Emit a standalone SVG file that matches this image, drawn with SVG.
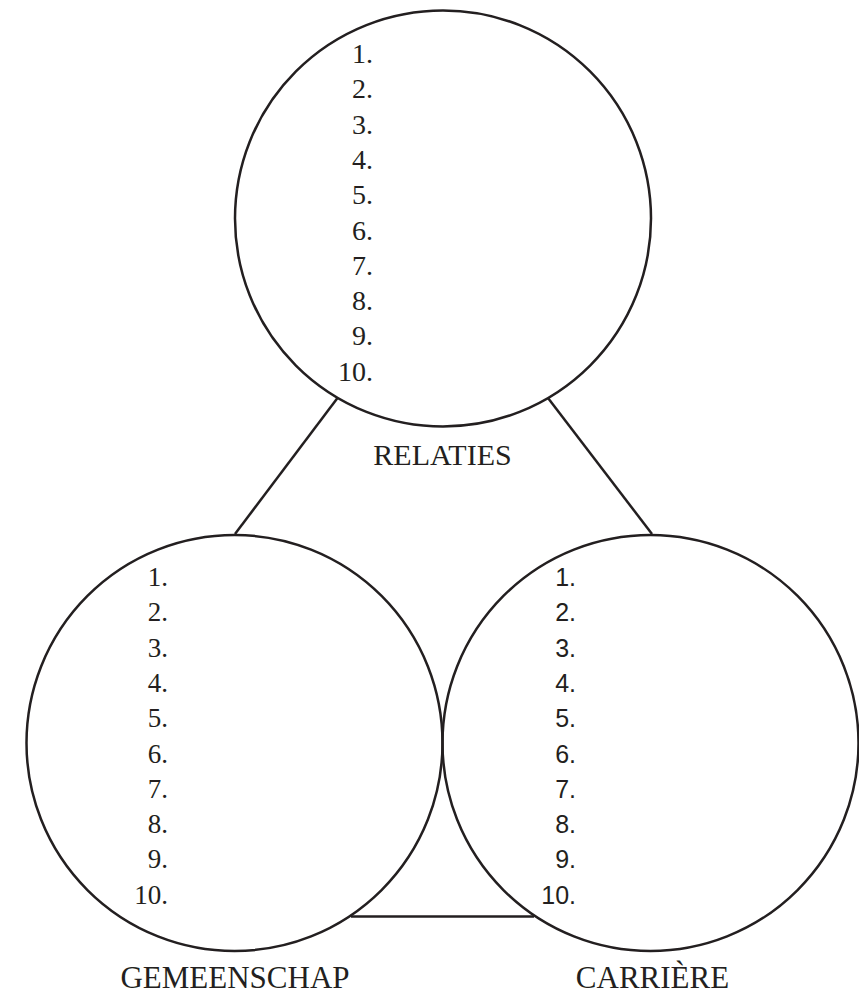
<svg xmlns="http://www.w3.org/2000/svg" width="859" height="997" viewBox="0 0 859 997">
<style>
.c{fill:none;stroke:#231f20;stroke-width:2.5}
.l{stroke:#231f20;stroke-width:2.5}
.ns{font-family:"Liberation Serif",serif;font-size:28px;fill:#231f20;text-anchor:end}
.nl{font-family:"Liberation Serif",serif;font-size:27px;fill:#231f20;text-anchor:end}
.nr{font-family:"Liberation Sans",sans-serif;font-size:25px;fill:#231f20;text-anchor:end}
.t{font-family:"Liberation Serif",serif;font-size:30px;fill:#231f20;text-anchor:middle}
.t2{font-family:"Liberation Serif",serif;font-size:31px;fill:#231f20;text-anchor:middle}
</style>
<rect width="859" height="997" fill="#fff"/>
<g id="connectors">
<line class="l" x1="337.5" y1="398" x2="235" y2="534"/>
<line class="l" x1="548" y1="398" x2="652" y2="534"/>
<line class="l" x1="351" y1="916.5" x2="534" y2="916.5"/>
</g>
<g id="relaties">
<circle class="c" cx="443" cy="218.5" r="208"/>
<text class="ns" x="373" y="63">1.</text>
<text class="ns" x="373" y="98.3">2.</text>
<text class="ns" x="373" y="133.6">3.</text>
<text class="ns" x="373" y="168.9">4.</text>
<text class="ns" x="373" y="204.2">5.</text>
<text class="ns" x="373" y="239.5">6.</text>
<text class="ns" x="373" y="274.8">7.</text>
<text class="ns" x="373" y="310.1">8.</text>
<text class="ns" x="373" y="345.4">9.</text>
<text class="ns" x="373" y="380.7">10.</text>
<text class="t" x="442.5" y="465">RELATIES</text>
</g>
<g id="gemeenschap">
<circle class="c" cx="234.5" cy="743" r="208"/>
<text class="nl" x="168" y="586">1.</text>
<text class="nl" x="168" y="621.3">2.</text>
<text class="nl" x="168" y="656.6">3.</text>
<text class="nl" x="168" y="691.9">4.</text>
<text class="nl" x="168" y="727.2">5.</text>
<text class="nl" x="168" y="762.5">6.</text>
<text class="nl" x="168" y="797.8">7.</text>
<text class="nl" x="168" y="833.1">8.</text>
<text class="nl" x="168" y="868.4">9.</text>
<text class="nl" x="168" y="903.7">10.</text>
<text class="t2" x="235" y="988">GEMEENSCHAP</text>
</g>
<g id="carriere">
<circle class="c" cx="650.5" cy="743" r="208"/>
<text class="nr" x="576" y="586">1.</text>
<text class="nr" x="576" y="621.3">2.</text>
<text class="nr" x="576" y="656.6">3.</text>
<text class="nr" x="576" y="691.9">4.</text>
<text class="nr" x="576" y="727.2">5.</text>
<text class="nr" x="576" y="762.5">6.</text>
<text class="nr" x="576" y="797.8">7.</text>
<text class="nr" x="576" y="833.1">8.</text>
<text class="nr" x="576" y="868.4">9.</text>
<text class="nr" x="576" y="903.7">10.</text>
<text class="t2" x="652.5" y="988">CARRIÈRE</text>
</g>
</svg>
